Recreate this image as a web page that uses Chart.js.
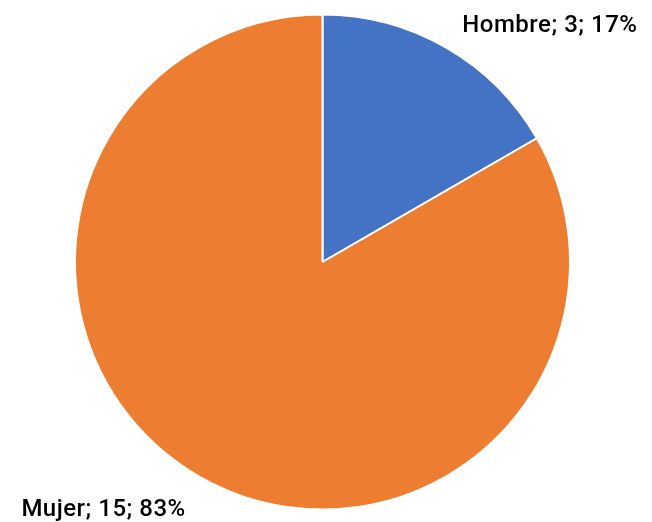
<!DOCTYPE html>
<html><head><meta charset="utf-8">
<script src="https://cdn.jsdelivr.net/npm/chart.js@4"></script>
<style>html,body{margin:0;padding:0;background:#fff}#wrap{width:652px;height:522px}</style>
</head><body><div id="wrap"><canvas id="c" width="652" height="522"></canvas></div>
<script>
const categories = ["Hombre", "Mujer"];
const values = [3, 15];
const percents = ["17%", "83%"];
const colors = ["#4472C4", "#ED7D31"];

const labelPlugin = {
  id: 'pieLabels',
  afterDatasetsDraw(chart) {
    const ctx = chart.ctx;
    const meta = chart.getDatasetMeta(0);
    ctx.save();
    ctx.font = '500 24px Roboto, "Noto Sans", sans-serif';
    if ('letterSpacing' in ctx) ctx.letterSpacing = '0.5px';
    ctx.fillStyle = '#000';
    ctx.textBaseline = 'alphabetic';
    meta.data.forEach((arc, i) => {
      const mid = (arc.startAngle + arc.endAngle) / 2;
      const px = arc.x + Math.cos(mid) * arc.outerRadius;
      const py = arc.y + Math.sin(mid) * arc.outerRadius;
      const txt = categories[i] + '; ' + values[i] + '; ' + percents[i];
      if (Math.cos(mid) >= 0) {
        ctx.textAlign = 'left';
        ctx.fillText(txt, px + 16, py - 16);
      } else {
        ctx.textAlign = 'right';
        ctx.fillText(txt, px - 13, py + 40);
      }
    });
    ctx.restore();
  }
};

new Chart(document.getElementById('c'), {
  type: 'pie',
  data: {
    labels: categories,
    datasets: [{ data: values, backgroundColor: colors, borderColor: '#fff', borderWidth: 2 }]
  },
  options: {
    responsive: false,
    animation: false,
    layout: { padding: { top: 13.5, bottom: 11.5, left: 0, right: 7 } },
    plugins: { legend: { display: false }, tooltip: { enabled: false } }
  },
  plugins: [labelPlugin]
});
</script></body></html>
